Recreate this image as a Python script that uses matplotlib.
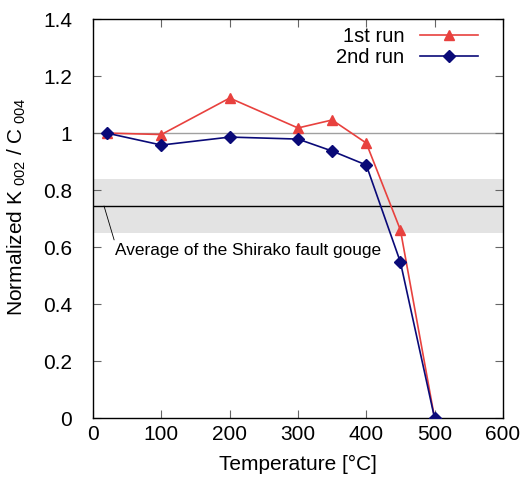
import numpy as np
import matplotlib.pyplot as plt

plt.rcParams['font.family'] = ['Liberation Sans', 'DejaVu Sans']

temp = [20, 100, 200, 300, 350, 400, 450, 500]
run1 = [1.0, 0.995, 1.123, 1.018, 1.046, 0.965, 0.66, 0.0]
run2 = [1.0, 0.958, 0.986, 0.979, 0.937, 0.888, 0.547, 0.0]
band_low, band_high, band_avg = 0.649, 0.839, 0.744

fig = plt.figure(figsize=(5.26, 4.78), dpi=100)
ax = fig.add_axes([0.177, 0.1255, 0.779, 0.8345])

ax.axhspan(band_low, band_high, color='#e3e3e3', lw=0, zorder=0)
ax.axhline(band_avg, color='black', lw=1.0, zorder=1)
ax.axhline(1.0, color='#a0a0a0', lw=1.0, zorder=1)

ax.plot(temp, run1, color='#e8413e', marker='^', ms=7, lw=1.2, label='1st run', zorder=3)
ax.plot(temp, run2, color='#0a0a78', marker='D', ms=6, lw=1.2, label='2nd run', zorder=4)

# label for the grey band
ax.annotate('Average of the Shirako fault gouge', xy=(16, band_avg), xytext=(32, 0.589),
            fontsize=12.4, va='center', ha='left',
            arrowprops=dict(arrowstyle='-', color='black', lw=0.6, shrinkA=0, shrinkB=0,
                            relpos=(0.0, 1.0)))

ax.set_xlim(0, 600)
ax.set_ylim(0, 1.4)
ax.set_xticks(np.arange(0, 601, 100))
ax.set_yticks(np.arange(0, 1.41, 0.2))
ax.set_yticklabels(['0', '0.2', '0.4', '0.6', '0.8', '1', '1.2', '1.4'])
ax.tick_params(direction='in', top=True, right=True, labelsize=15, length=6, color='#666666')
ax.tick_params(axis='x', pad=5)
ax.tick_params(axis='y', pad=15)
for s in ax.spines.values():
    s.set_color('black')
    s.set_linewidth(1.0)

ax.set_xlabel('Temperature [°C]', fontsize=15, labelpad=8)
ax.set_ylabel(r'Normalized K$_{\mathregular{\ 002}}$ / C$_{\mathregular{\ 004}}$', fontsize=15)
ax.yaxis.set_label_coords(-0.158, 0.53)

ax.legend(loc='upper right', bbox_to_anchor=(0.959, 1.0), frameon=False, markerfirst=False,
          fontsize=14.5, handlelength=2.9, handletextpad=0.75, borderaxespad=0,
          labelspacing=0.1)

fig.savefig('out.png', dpi=100)
